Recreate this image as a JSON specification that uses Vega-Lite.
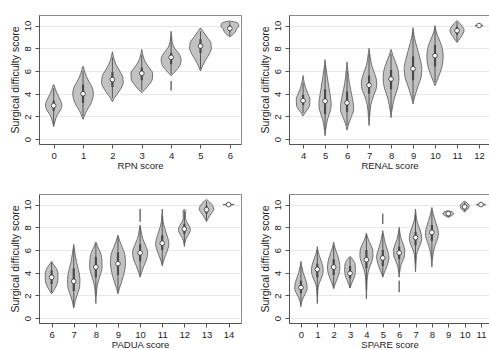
{
"$schema":"https://vega.github.io/schema/vega-lite/v6.json",
"padding":{"left":9,"top":14,"right":0,"bottom":0},
"background":"white",
"datasets":{
"vio":[
{"p":"RPN","k":"R0","v":4.8,"l":-0.01,"h":0.01},{"p":"RPN","k":"R0","v":4.4,"l":-0.06,"h":0.06},{"p":"RPN","k":"R0","v":4.0,"l":-0.12,"h":0.12},{"p":"RPN","k":"R0","v":3.5,"l":-0.22,"h":0.22},{"p":"RPN","k":"R0","v":3.0,"l":-0.28,"h":0.28},{"p":"RPN","k":"R0","v":2.6,"l":-0.24,"h":0.24},{"p":"RPN","k":"R0","v":2.2,"l":-0.14,"h":0.14},{"p":"RPN","k":"R0","v":1.8,"l":-0.07,"h":0.07},{"p":"RPN","k":"R0","v":1.4,"l":-0.03,"h":0.03},{"p":"RPN","k":"R0","v":1.1,"l":0,"h":0},
{"p":"RPN","k":"R1","v":6.4,"l":0.99,"h":1.01},{"p":"RPN","k":"R1","v":6.0,"l":0.95,"h":1.05},{"p":"RPN","k":"R1","v":5.5,"l":0.88,"h":1.12},{"p":"RPN","k":"R1","v":5.0,"l":0.78,"h":1.22},{"p":"RPN","k":"R1","v":4.5,"l":0.68,"h":1.32},{"p":"RPN","k":"R1","v":4.0,"l":0.65,"h":1.35},{"p":"RPN","k":"R1","v":3.5,"l":0.68,"h":1.32},{"p":"RPN","k":"R1","v":3.0,"l":0.76,"h":1.24},{"p":"RPN","k":"R1","v":2.5,"l":0.88,"h":1.12},{"p":"RPN","k":"R1","v":2.0,"l":0.96,"h":1.04},{"p":"RPN","k":"R1","v":1.75,"l":1,"h":1},
{"p":"RPN","k":"R2","v":7.7,"l":2,"h":2},{"p":"RPN","k":"R2","v":7.2,"l":1.96,"h":2.04},{"p":"RPN","k":"R2","v":6.6,"l":1.88,"h":2.12},{"p":"RPN","k":"R2","v":6.0,"l":1.75,"h":2.25},{"p":"RPN","k":"R2","v":5.5,"l":1.65,"h":2.35},{"p":"RPN","k":"R2","v":5.0,"l":1.63,"h":2.37},{"p":"RPN","k":"R2","v":4.5,"l":1.7,"h":2.3},{"p":"RPN","k":"R2","v":4.0,"l":1.83,"h":2.17},{"p":"RPN","k":"R2","v":3.6,"l":1.94,"h":2.06},{"p":"RPN","k":"R2","v":3.3,"l":2,"h":2},
{"p":"RPN","k":"R3","v":7.9,"l":3,"h":3},{"p":"RPN","k":"R3","v":7.4,"l":2.96,"h":3.04},{"p":"RPN","k":"R3","v":6.8,"l":2.88,"h":3.12},{"p":"RPN","k":"R3","v":6.3,"l":2.75,"h":3.25},{"p":"RPN","k":"R3","v":5.8,"l":2.63,"h":3.37},{"p":"RPN","k":"R3","v":5.3,"l":2.64,"h":3.36},{"p":"RPN","k":"R3","v":4.8,"l":2.75,"h":3.25},{"p":"RPN","k":"R3","v":4.4,"l":2.88,"h":3.12},{"p":"RPN","k":"R3","v":4.1,"l":3,"h":3},
{"p":"RPN","k":"R4","v":9.5,"l":4,"h":4},{"p":"RPN","k":"R4","v":9.0,"l":3.98,"h":4.02},{"p":"RPN","k":"R4","v":8.5,"l":3.96,"h":4.04},{"p":"RPN","k":"R4","v":8.0,"l":3.88,"h":4.12},{"p":"RPN","k":"R4","v":7.5,"l":3.73,"h":4.27},{"p":"RPN","k":"R4","v":7.0,"l":3.66,"h":4.34},{"p":"RPN","k":"R4","v":6.5,"l":3.7,"h":4.3},{"p":"RPN","k":"R4","v":6.0,"l":3.85,"h":4.15},{"p":"RPN","k":"R4","v":5.6,"l":4,"h":4},
{"p":"RPN","k":"R4t","v":5.1,"l":3.995,"h":4.005},{"p":"RPN","k":"R4t","v":4.3,"l":3.995,"h":4.005},
{"p":"RPN","k":"R5","v":9.8,"l":5,"h":5},{"p":"RPN","k":"R5","v":9.5,"l":4.92,"h":5.08},{"p":"RPN","k":"R5","v":9.0,"l":4.78,"h":5.22},{"p":"RPN","k":"R5","v":8.5,"l":4.65,"h":5.35},{"p":"RPN","k":"R5","v":8.0,"l":4.63,"h":5.37},{"p":"RPN","k":"R5","v":7.5,"l":4.7,"h":5.3},{"p":"RPN","k":"R5","v":7.0,"l":4.82,"h":5.18},{"p":"RPN","k":"R5","v":6.5,"l":4.92,"h":5.08},{"p":"RPN","k":"R5","v":6.0,"l":5,"h":5},
{"p":"RPN","k":"R6","v":10.4,"l":6,"h":6},{"p":"RPN","k":"R6","v":10.3,"l":5.8,"h":6.2},{"p":"RPN","k":"R6","v":10.1,"l":5.7,"h":6.3},{"p":"RPN","k":"R6","v":9.9,"l":5.7,"h":6.3},{"p":"RPN","k":"R6","v":9.7,"l":5.78,"h":6.22},{"p":"RPN","k":"R6","v":9.5,"l":5.8,"h":6.2},{"p":"RPN","k":"R6","v":9.3,"l":5.86,"h":6.14},{"p":"RPN","k":"R6","v":9.1,"l":5.95,"h":6.05},{"p":"RPN","k":"R6","v":9.0,"l":6,"h":6},

{"p":"REN","k":"N4","v":5.6,"l":4,"h":4},{"p":"REN","k":"N4","v":5.0,"l":3.95,"h":4.05},{"p":"REN","k":"N4","v":4.5,"l":3.88,"h":4.12},{"p":"REN","k":"N4","v":4.0,"l":3.78,"h":4.22},{"p":"REN","k":"N4","v":3.5,"l":3.69,"h":4.31},{"p":"REN","k":"N4","v":3.0,"l":3.7,"h":4.3},{"p":"REN","k":"N4","v":2.6,"l":3.8,"h":4.2},{"p":"REN","k":"N4","v":2.3,"l":3.92,"h":4.08},{"p":"REN","k":"N4","v":2.05,"l":4,"h":4},
{"p":"REN","k":"N5","v":7.0,"l":5,"h":5},{"p":"REN","k":"N5","v":6.3,"l":4.96,"h":5.04},{"p":"REN","k":"N5","v":5.5,"l":4.9,"h":5.1},{"p":"REN","k":"N5","v":4.5,"l":4.82,"h":5.18},{"p":"REN","k":"N5","v":3.5,"l":4.74,"h":5.26},{"p":"REN","k":"N5","v":3.0,"l":4.72,"h":5.28},{"p":"REN","k":"N5","v":2.5,"l":4.76,"h":5.24},{"p":"REN","k":"N5","v":1.8,"l":4.88,"h":5.12},{"p":"REN","k":"N5","v":1.0,"l":4.96,"h":5.04},{"p":"REN","k":"N5","v":0.3,"l":5,"h":5},
{"p":"REN","k":"N6","v":6.8,"l":6,"h":6},{"p":"REN","k":"N6","v":6.0,"l":5.96,"h":6.04},{"p":"REN","k":"N6","v":5.0,"l":5.9,"h":6.1},{"p":"REN","k":"N6","v":4.0,"l":5.8,"h":6.2},{"p":"REN","k":"N6","v":3.2,"l":5.72,"h":6.28},{"p":"REN","k":"N6","v":2.6,"l":5.7,"h":6.3},{"p":"REN","k":"N6","v":2.0,"l":5.8,"h":6.2},{"p":"REN","k":"N6","v":1.4,"l":5.92,"h":6.08},{"p":"REN","k":"N6","v":0.8,"l":6,"h":6},
{"p":"REN","k":"N7","v":8.0,"l":7,"h":7},{"p":"REN","k":"N7","v":7.3,"l":6.95,"h":7.05},{"p":"REN","k":"N7","v":6.5,"l":6.88,"h":7.12},{"p":"REN","k":"N7","v":5.8,"l":6.75,"h":7.25},{"p":"REN","k":"N7","v":5.0,"l":6.65,"h":7.35},{"p":"REN","k":"N7","v":4.5,"l":6.67,"h":7.33},{"p":"REN","k":"N7","v":3.8,"l":6.8,"h":7.2},{"p":"REN","k":"N7","v":3.0,"l":6.92,"h":7.08},{"p":"REN","k":"N7","v":2.0,"l":6.97,"h":7.03},{"p":"REN","k":"N7","v":1.2,"l":7,"h":7},
{"p":"REN","k":"N8","v":7.9,"l":8,"h":8},{"p":"REN","k":"N8","v":7.4,"l":7.92,"h":8.08},{"p":"REN","k":"N8","v":6.8,"l":7.8,"h":8.2},{"p":"REN","k":"N8","v":6.0,"l":7.67,"h":8.33},{"p":"REN","k":"N8","v":5.3,"l":7.64,"h":8.36},{"p":"REN","k":"N8","v":4.5,"l":7.7,"h":8.3},{"p":"REN","k":"N8","v":3.8,"l":7.82,"h":8.18},{"p":"REN","k":"N8","v":3.0,"l":7.92,"h":8.08},{"p":"REN","k":"N8","v":2.4,"l":7.97,"h":8.03},{"p":"REN","k":"N8","v":1.9,"l":8,"h":8},
{"p":"REN","k":"N9","v":9.8,"l":9,"h":9},{"p":"REN","k":"N9","v":9.2,"l":8.96,"h":9.04},{"p":"REN","k":"N9","v":8.5,"l":8.88,"h":9.12},{"p":"REN","k":"N9","v":7.8,"l":8.78,"h":9.22},{"p":"REN","k":"N9","v":7.0,"l":8.67,"h":9.33},{"p":"REN","k":"N9","v":6.3,"l":8.6,"h":9.4},{"p":"REN","k":"N9","v":5.5,"l":8.63,"h":9.37},{"p":"REN","k":"N9","v":4.8,"l":8.75,"h":9.25},{"p":"REN","k":"N9","v":4.0,"l":8.88,"h":9.12},{"p":"REN","k":"N9","v":3.4,"l":8.97,"h":9.03},{"p":"REN","k":"N9","v":3.1,"l":9,"h":9},
{"p":"REN","k":"N10","v":10.0,"l":10,"h":10},{"p":"REN","k":"N10","v":9.5,"l":9.95,"h":10.05},{"p":"REN","k":"N10","v":9.0,"l":9.86,"h":10.14},{"p":"REN","k":"N10","v":8.5,"l":9.75,"h":10.25},{"p":"REN","k":"N10","v":8.0,"l":9.67,"h":10.33},{"p":"REN","k":"N10","v":7.3,"l":9.63,"h":10.37},{"p":"REN","k":"N10","v":6.5,"l":9.67,"h":10.33},{"p":"REN","k":"N10","v":5.8,"l":9.78,"h":10.22},{"p":"REN","k":"N10","v":5.2,"l":9.9,"h":10.1},{"p":"REN","k":"N10","v":4.7,"l":10,"h":10},
{"p":"REN","k":"N11","v":10.45,"l":11,"h":11},{"p":"REN","k":"N11","v":10.2,"l":10.88,"h":11.12},{"p":"REN","k":"N11","v":9.9,"l":10.75,"h":11.25},{"p":"REN","k":"N11","v":9.6,"l":10.68,"h":11.32},{"p":"REN","k":"N11","v":9.3,"l":10.72,"h":11.28},{"p":"REN","k":"N11","v":9.0,"l":10.82,"h":11.18},{"p":"REN","k":"N11","v":8.7,"l":10.93,"h":11.07},{"p":"REN","k":"N11","v":8.5,"l":11,"h":11},
{"p":"REN","k":"N12","v":10.02,"l":11.82,"h":12.18},{"p":"REN","k":"N12","v":9.98,"l":11.82,"h":12.18},

{"p":"PAD","k":"P6","v":5.0,"l":6,"h":6},{"p":"PAD","k":"P6","v":4.7,"l":5.9,"h":6.1},{"p":"PAD","k":"P6","v":4.3,"l":5.76,"h":6.24},{"p":"PAD","k":"P6","v":3.8,"l":5.71,"h":6.29},{"p":"PAD","k":"P6","v":3.3,"l":5.72,"h":6.28},{"p":"PAD","k":"P6","v":2.8,"l":5.8,"h":6.2},{"p":"PAD","k":"P6","v":2.4,"l":5.92,"h":6.08},{"p":"PAD","k":"P6","v":2.15,"l":6,"h":6},
{"p":"PAD","k":"P7","v":6.5,"l":7,"h":7},{"p":"PAD","k":"P7","v":5.8,"l":6.95,"h":7.05},{"p":"PAD","k":"P7","v":5.0,"l":6.88,"h":7.12},{"p":"PAD","k":"P7","v":4.2,"l":6.78,"h":7.22},{"p":"PAD","k":"P7","v":3.4,"l":6.72,"h":7.28},{"p":"PAD","k":"P7","v":2.8,"l":6.73,"h":7.27},{"p":"PAD","k":"P7","v":2.2,"l":6.82,"h":7.18},{"p":"PAD","k":"P7","v":1.6,"l":6.92,"h":7.08},{"p":"PAD","k":"P7","v":0.9,"l":7,"h":7},
{"p":"PAD","k":"P8","v":6.7,"l":8,"h":8},{"p":"PAD","k":"P8","v":6.3,"l":7.92,"h":8.08},{"p":"PAD","k":"P8","v":5.8,"l":7.8,"h":8.2},{"p":"PAD","k":"P8","v":5.2,"l":7.73,"h":8.27},{"p":"PAD","k":"P8","v":4.5,"l":7.72,"h":8.28},{"p":"PAD","k":"P8","v":3.8,"l":7.8,"h":8.2},{"p":"PAD","k":"P8","v":3.0,"l":7.92,"h":8.08},{"p":"PAD","k":"P8","v":2.3,"l":7.97,"h":8.03},{"p":"PAD","k":"P8","v":1.3,"l":8,"h":8},
{"p":"PAD","k":"P9","v":7.3,"l":9,"h":9},{"p":"PAD","k":"P9","v":6.8,"l":8.92,"h":9.08},{"p":"PAD","k":"P9","v":6.2,"l":8.8,"h":9.2},{"p":"PAD","k":"P9","v":5.5,"l":8.68,"h":9.32},{"p":"PAD","k":"P9","v":4.8,"l":8.66,"h":9.34},{"p":"PAD","k":"P9","v":4.0,"l":8.72,"h":9.28},{"p":"PAD","k":"P9","v":3.3,"l":8.82,"h":9.18},{"p":"PAD","k":"P9","v":2.6,"l":8.94,"h":9.06},{"p":"PAD","k":"P9","v":2.15,"l":9,"h":9},
{"p":"PAD","k":"P10","v":8.2,"l":10,"h":10},{"p":"PAD","k":"P10","v":7.6,"l":9.95,"h":10.05},{"p":"PAD","k":"P10","v":7.0,"l":9.88,"h":10.12},{"p":"PAD","k":"P10","v":6.4,"l":9.75,"h":10.25},{"p":"PAD","k":"P10","v":5.8,"l":9.66,"h":10.34},{"p":"PAD","k":"P10","v":5.2,"l":9.7,"h":10.3},{"p":"PAD","k":"P10","v":4.6,"l":9.83,"h":10.17},{"p":"PAD","k":"P10","v":4.0,"l":9.94,"h":10.06},{"p":"PAD","k":"P10","v":3.6,"l":10,"h":10},
{"p":"PAD","k":"P10t","v":9.6,"l":9.995,"h":10.005},{"p":"PAD","k":"P10t","v":8.5,"l":9.995,"h":10.005},
{"p":"PAD","k":"P11","v":9.6,"l":11,"h":11},{"p":"PAD","k":"P11","v":9.0,"l":10.98,"h":11.02},{"p":"PAD","k":"P11","v":8.5,"l":10.96,"h":11.04},{"p":"PAD","k":"P11","v":8.0,"l":10.9,"h":11.1},{"p":"PAD","k":"P11","v":7.5,"l":10.82,"h":11.18},{"p":"PAD","k":"P11","v":7.0,"l":10.74,"h":11.26},{"p":"PAD","k":"P11","v":6.5,"l":10.7,"h":11.3},{"p":"PAD","k":"P11","v":6.0,"l":10.76,"h":11.24},{"p":"PAD","k":"P11","v":5.5,"l":10.86,"h":11.14},{"p":"PAD","k":"P11","v":5.0,"l":10.95,"h":11.05},{"p":"PAD","k":"P11","v":4.6,"l":11,"h":11},
{"p":"PAD","k":"P12","v":9.6,"l":12,"h":12},{"p":"PAD","k":"P12","v":9.4,"l":11.94,"h":12.06},{"p":"PAD","k":"P12","v":9.1,"l":11.95,"h":12.05},{"p":"PAD","k":"P12","v":8.8,"l":11.95,"h":12.05},{"p":"PAD","k":"P12","v":8.5,"l":11.9,"h":12.1},{"p":"PAD","k":"P12","v":8.1,"l":11.78,"h":12.22},{"p":"PAD","k":"P12","v":7.8,"l":11.73,"h":12.27},{"p":"PAD","k":"P12","v":7.4,"l":11.8,"h":12.2},{"p":"PAD","k":"P12","v":7.0,"l":11.92,"h":12.08},{"p":"PAD","k":"P12","v":6.6,"l":11.98,"h":12.02},{"p":"PAD","k":"P12","v":6.3,"l":12,"h":12},
{"p":"PAD","k":"P13","v":10.45,"l":13,"h":13},{"p":"PAD","k":"P13","v":10.2,"l":12.85,"h":13.15},{"p":"PAD","k":"P13","v":9.9,"l":12.72,"h":13.28},{"p":"PAD","k":"P13","v":9.6,"l":12.67,"h":13.33},{"p":"PAD","k":"P13","v":9.3,"l":12.75,"h":13.25},{"p":"PAD","k":"P13","v":9.0,"l":12.86,"h":13.14},{"p":"PAD","k":"P13","v":8.7,"l":12.95,"h":13.05},{"p":"PAD","k":"P13","v":8.5,"l":13,"h":13},
{"p":"PAD","k":"P14","v":10.02,"l":13.76,"h":14.24},{"p":"PAD","k":"P14","v":9.98,"l":13.76,"h":14.24},

{"p":"SPA","k":"S0","v":5.0,"l":0,"h":0},{"p":"SPA","k":"S0","v":4.5,"l":-0.06,"h":0.06},{"p":"SPA","k":"S0","v":4.0,"l":-0.14,"h":0.14},{"p":"SPA","k":"S0","v":3.5,"l":-0.26,"h":0.26},{"p":"SPA","k":"S0","v":3.0,"l":-0.36,"h":0.36},{"p":"SPA","k":"S0","v":2.6,"l":-0.38,"h":0.38},{"p":"SPA","k":"S0","v":2.2,"l":-0.28,"h":0.28},{"p":"SPA","k":"S0","v":1.8,"l":-0.14,"h":0.14},{"p":"SPA","k":"S0","v":1.4,"l":-0.04,"h":0.04},{"p":"SPA","k":"S0","v":1.0,"l":0,"h":0},
{"p":"SPA","k":"S1","v":6.3,"l":1,"h":1},{"p":"SPA","k":"S1","v":5.8,"l":0.94,"h":1.06},{"p":"SPA","k":"S1","v":5.2,"l":0.8,"h":1.2},{"p":"SPA","k":"S1","v":4.6,"l":0.67,"h":1.33},{"p":"SPA","k":"S1","v":4.2,"l":0.64,"h":1.36},{"p":"SPA","k":"S1","v":3.7,"l":0.7,"h":1.3},{"p":"SPA","k":"S1","v":3.2,"l":0.85,"h":1.15},{"p":"SPA","k":"S1","v":2.7,"l":0.95,"h":1.05},{"p":"SPA","k":"S1","v":2.0,"l":0.98,"h":1.02},{"p":"SPA","k":"S1","v":1.3,"l":1,"h":1},
{"p":"SPA","k":"S2","v":6.7,"l":2,"h":2},{"p":"SPA","k":"S2","v":6.2,"l":1.92,"h":2.08},{"p":"SPA","k":"S2","v":5.6,"l":1.78,"h":2.22},{"p":"SPA","k":"S2","v":5.0,"l":1.66,"h":2.34},{"p":"SPA","k":"S2","v":4.4,"l":1.62,"h":2.38},{"p":"SPA","k":"S2","v":3.8,"l":1.7,"h":2.3},{"p":"SPA","k":"S2","v":3.3,"l":1.83,"h":2.17},{"p":"SPA","k":"S2","v":2.9,"l":1.94,"h":2.06},{"p":"SPA","k":"S2","v":2.6,"l":2,"h":2},
{"p":"SPA","k":"S3","v":5.45,"l":3,"h":3},{"p":"SPA","k":"S3","v":5.2,"l":2.85,"h":3.15},{"p":"SPA","k":"S3","v":4.8,"l":2.7,"h":3.3},{"p":"SPA","k":"S3","v":4.3,"l":2.67,"h":3.33},{"p":"SPA","k":"S3","v":3.8,"l":2.7,"h":3.3},{"p":"SPA","k":"S3","v":3.4,"l":2.8,"h":3.2},{"p":"SPA","k":"S3","v":3.0,"l":2.92,"h":3.08},{"p":"SPA","k":"S3","v":2.65,"l":3,"h":3},
{"p":"SPA","k":"S4","v":7.5,"l":4,"h":4},{"p":"SPA","k":"S4","v":7.0,"l":3.9,"h":4.1},{"p":"SPA","k":"S4","v":6.5,"l":3.75,"h":4.25},{"p":"SPA","k":"S4","v":6.0,"l":3.62,"h":4.38},{"p":"SPA","k":"S4","v":5.5,"l":3.6,"h":4.4},{"p":"SPA","k":"S4","v":5.0,"l":3.67,"h":4.33},{"p":"SPA","k":"S4","v":4.5,"l":3.8,"h":4.2},{"p":"SPA","k":"S4","v":4.0,"l":3.9,"h":4.1},{"p":"SPA","k":"S4","v":3.3,"l":3.96,"h":4.04},{"p":"SPA","k":"S4","v":2.5,"l":3.98,"h":4.02},{"p":"SPA","k":"S4","v":1.7,"l":4,"h":4},
{"p":"SPA","k":"S5","v":7.7,"l":5,"h":5},{"p":"SPA","k":"S5","v":7.2,"l":4.94,"h":5.06},{"p":"SPA","k":"S5","v":6.6,"l":4.85,"h":5.15},{"p":"SPA","k":"S5","v":6.0,"l":4.72,"h":5.28},{"p":"SPA","k":"S5","v":5.4,"l":4.62,"h":5.38},{"p":"SPA","k":"S5","v":4.8,"l":4.7,"h":5.3},{"p":"SPA","k":"S5","v":4.3,"l":4.82,"h":5.18},{"p":"SPA","k":"S5","v":3.9,"l":4.94,"h":5.06},{"p":"SPA","k":"S5","v":3.6,"l":5,"h":5},
{"p":"SPA","k":"S5t","v":9.2,"l":4.995,"h":5.005},{"p":"SPA","k":"S5t","v":8.3,"l":4.995,"h":5.005},
{"p":"SPA","k":"S6","v":8.0,"l":6,"h":6},{"p":"SPA","k":"S6","v":7.5,"l":5.95,"h":6.05},{"p":"SPA","k":"S6","v":7.0,"l":5.88,"h":6.12},{"p":"SPA","k":"S6","v":6.5,"l":5.75,"h":6.25},{"p":"SPA","k":"S6","v":6.0,"l":5.66,"h":6.34},{"p":"SPA","k":"S6","v":5.5,"l":5.67,"h":6.33},{"p":"SPA","k":"S6","v":5.0,"l":5.8,"h":6.2},{"p":"SPA","k":"S6","v":4.5,"l":5.92,"h":6.08},{"p":"SPA","k":"S6","v":4.0,"l":5.97,"h":6.03},{"p":"SPA","k":"S6","v":3.6,"l":6,"h":6},
{"p":"SPA","k":"S6t","v":3.3,"l":5.995,"h":6.005},{"p":"SPA","k":"S6t","v":2.3,"l":5.995,"h":6.005},
{"p":"SPA","k":"S7","v":9.6,"l":7,"h":7},{"p":"SPA","k":"S7","v":9.0,"l":6.96,"h":7.04},{"p":"SPA","k":"S7","v":8.5,"l":6.9,"h":7.1},{"p":"SPA","k":"S7","v":8.0,"l":6.78,"h":7.22},{"p":"SPA","k":"S7","v":7.5,"l":6.67,"h":7.33},{"p":"SPA","k":"S7","v":7.0,"l":6.62,"h":7.38},{"p":"SPA","k":"S7","v":6.5,"l":6.7,"h":7.3},{"p":"SPA","k":"S7","v":6.0,"l":6.85,"h":7.15},{"p":"SPA","k":"S7","v":5.5,"l":6.94,"h":7.06},{"p":"SPA","k":"S7","v":4.8,"l":6.97,"h":7.03},{"p":"SPA","k":"S7","v":4.1,"l":7,"h":7},
{"p":"SPA","k":"S8","v":9.75,"l":8,"h":8},{"p":"SPA","k":"S8","v":9.2,"l":7.92,"h":8.08},{"p":"SPA","k":"S8","v":8.6,"l":7.8,"h":8.2},{"p":"SPA","k":"S8","v":8.0,"l":7.67,"h":8.33},{"p":"SPA","k":"S8","v":7.5,"l":7.6,"h":8.4},{"p":"SPA","k":"S8","v":7.0,"l":7.65,"h":8.35},{"p":"SPA","k":"S8","v":6.5,"l":7.78,"h":8.22},{"p":"SPA","k":"S8","v":6.0,"l":7.88,"h":8.12},{"p":"SPA","k":"S8","v":5.4,"l":7.95,"h":8.05},{"p":"SPA","k":"S8","v":4.5,"l":8,"h":8},
{"p":"SPA","k":"S9","v":9.45,"l":9,"h":9},{"p":"SPA","k":"S9","v":9.35,"l":8.75,"h":9.25},{"p":"SPA","k":"S9","v":9.2,"l":8.67,"h":9.33},{"p":"SPA","k":"S9","v":9.05,"l":8.75,"h":9.25},{"p":"SPA","k":"S9","v":8.95,"l":8.9,"h":9.1},{"p":"SPA","k":"S9","v":8.85,"l":9,"h":9},
{"p":"SPA","k":"S10","v":10.3,"l":10,"h":10},{"p":"SPA","k":"S10","v":10.1,"l":9.82,"h":10.18},{"p":"SPA","k":"S10","v":9.9,"l":9.73,"h":10.27},{"p":"SPA","k":"S10","v":9.7,"l":9.76,"h":10.24},{"p":"SPA","k":"S10","v":9.5,"l":9.88,"h":10.12},{"p":"SPA","k":"S10","v":9.35,"l":10,"h":10},
{"p":"SPA","k":"S11","v":10.02,"l":10.73,"h":11.27},{"p":"SPA","k":"S11","v":9.98,"l":10.73,"h":11.27}
],
"box":[
{"p":"RPN","s":0,"q1":2.5,"q3":3.4,"lo":1.3,"hi":4.5,"m":2.95},
{"p":"RPN","s":1,"q1":3.2,"q3":4.8,"lo":2.0,"hi":6.0,"m":4.0},
{"p":"RPN","s":2,"q1":4.6,"q3":5.9,"lo":3.6,"hi":7.2,"m":5.25},
{"p":"RPN","s":3,"q1":5.2,"q3":6.3,"lo":4.3,"hi":7.4,"m":5.8},
{"p":"RPN","s":4,"q1":6.6,"q3":7.6,"lo":5.7,"hi":9.0,"m":7.2},
{"p":"RPN","s":5,"q1":7.6,"q3":8.8,"lo":6.2,"hi":9.5,"m":8.2},
{"p":"RPN","s":6,"q1":9.5,"q3":10.0,"lo":9.1,"hi":10.3,"m":9.75},
{"p":"REN","s":4,"q1":3.0,"q3":3.9,"lo":2.3,"hi":5.0,"m":3.4},
{"p":"REN","s":5,"q1":2.2,"q3":4.4,"lo":0.8,"hi":6.5,"m":3.35},
{"p":"REN","s":6,"q1":2.4,"q3":4.2,"lo":1.2,"hi":6.0,"m":3.2},
{"p":"REN","s":7,"q1":4.0,"q3":5.6,"lo":2.0,"hi":7.5,"m":4.75},
{"p":"REN","s":8,"q1":4.4,"q3":6.1,"lo":2.4,"hi":7.5,"m":5.3},
{"p":"REN","s":9,"q1":5.2,"q3":7.3,"lo":3.4,"hi":9.4,"m":6.2},
{"p":"REN","s":10,"q1":6.4,"q3":8.3,"lo":5.0,"hi":9.8,"m":7.35},
{"p":"REN","s":11,"q1":9.2,"q3":9.9,"lo":8.6,"hi":10.3,"m":9.55},
{"p":"REN","s":12,"q1":10,"q3":10,"lo":10,"hi":10,"m":10},
{"p":"PAD","s":6,"q1":3.0,"q3":4.2,"lo":2.3,"hi":4.9,"m":3.6},
{"p":"PAD","s":7,"q1":2.4,"q3":4.4,"lo":1.0,"hi":6.2,"m":3.25},
{"p":"PAD","s":8,"q1":3.6,"q3":5.4,"lo":2.0,"hi":6.6,"m":4.5},
{"p":"PAD","s":9,"q1":3.8,"q3":5.8,"lo":2.3,"hi":7.2,"m":4.8},
{"p":"PAD","s":10,"q1":5.0,"q3":6.5,"lo":3.8,"hi":8.0,"m":5.75},
{"p":"PAD","s":11,"q1":6.0,"q3":7.3,"lo":4.8,"hi":9.0,"m":6.6},
{"p":"PAD","s":12,"q1":7.4,"q3":8.3,"lo":6.5,"hi":9.4,"m":7.85},
{"p":"PAD","s":13,"q1":9.2,"q3":9.9,"lo":8.6,"hi":10.3,"m":9.55},
{"p":"PAD","s":14,"q1":10,"q3":10,"lo":10,"hi":10,"m":10},
{"p":"SPA","s":0,"q1":2.2,"q3":3.3,"lo":1.2,"hi":4.6,"m":2.7},
{"p":"SPA","s":1,"q1":3.6,"q3":4.8,"lo":2.0,"hi":6.0,"m":4.3},
{"p":"SPA","s":2,"q1":3.8,"q3":5.2,"lo":2.7,"hi":6.4,"m":4.5},
{"p":"SPA","s":3,"q1":3.5,"q3":4.6,"lo":2.7,"hi":5.3,"m":3.95},
{"p":"SPA","s":4,"q1":4.4,"q3":6.0,"lo":2.5,"hi":7.3,"m":5.15},
{"p":"SPA","s":5,"q1":4.6,"q3":6.0,"lo":3.7,"hi":7.4,"m":5.3},
{"p":"SPA","s":6,"q1":5.2,"q3":6.3,"lo":4.0,"hi":7.7,"m":5.75},
{"p":"SPA","s":7,"q1":6.4,"q3":7.6,"lo":4.8,"hi":9.2,"m":7.1},
{"p":"SPA","s":8,"q1":6.8,"q3":8.2,"lo":5.2,"hi":9.5,"m":7.55},
{"p":"SPA","s":9,"q1":9.0,"q3":9.35,"lo":8.9,"hi":9.4,"m":9.2},
{"p":"SPA","s":10,"q1":9.6,"q3":10.0,"lo":9.4,"hi":10.2,"m":9.8},
{"p":"SPA","s":11,"q1":10,"q3":10,"lo":10,"hi":10,"m":10}
]
},
"concat":[
{"width":202,"height":129,"layer":[
{"data":{"name":"vio"},"transform":[{"filter":"datum.p=='RPN'"}],"mark":{"type":"area","orient":"horizontal","interpolate":"monotone","fill":"#c2c2c2","stroke":"#555555","strokeWidth":0.8},
"encoding":{"y":{"field":"v","type":"quantitative","scale":{"domain":[-0.42,10.93],"nice":false,"zero":false},"axis":{"title":"Surgical difficulty score","values":[0,2,4,6,8,10],"tickCount":20,"format":"d","labelOverlap":false}},
"x":{"field":"l","type":"quantitative","scale":{"domain":[-0.5,6.38],"nice":false,"zero":false},"axis":{"title":"RPN score","values":[0,1,2,3,4,5,6],"tickCount":20,"format":"d","labelOverlap":false}},"x2":{"field":"h"},"detail":{"field":"k"}}},
{"data":{"name":"box"},"transform":[{"filter":"datum.p=='RPN'"}],"mark":{"type":"rule","color":"#555555","strokeWidth":1},"encoding":{"x":{"field":"s","type":"quantitative"},"y":{"field":"lo","type":"quantitative"},"y2":{"field":"hi"}}},
{"data":{"name":"box"},"transform":[{"filter":"datum.p=='RPN'"}],"mark":{"type":"rule","color":"#4a4a4a","strokeWidth":2.2},"encoding":{"x":{"field":"s","type":"quantitative"},"y":{"field":"q1","type":"quantitative"},"y2":{"field":"q3"}}},
{"data":{"name":"box"},"transform":[{"filter":"datum.p=='RPN'"}],"mark":{"type":"point","filled":false,"fill":"white","fillOpacity":1,"stroke":"#333333","strokeWidth":0.8,"size":22,"opacity":1},"encoding":{"x":{"field":"s","type":"quantitative"},"y":{"field":"m","type":"quantitative"}}}
]},
{"width":201,"height":129,"layer":[
{"data":{"name":"vio"},"transform":[{"filter":"datum.p=='REN'"}],"mark":{"type":"area","orient":"horizontal","interpolate":"monotone","fill":"#c2c2c2","stroke":"#555555","strokeWidth":0.8},
"encoding":{"y":{"field":"v","type":"quantitative","scale":{"domain":[-0.42,10.93],"nice":false,"zero":false},"axis":{"title":"Surgical difficulty score","values":[0,2,4,6,8,10],"tickCount":20,"format":"d","labelOverlap":false}},
"x":{"field":"l","type":"quantitative","scale":{"domain":[3.36,12.5],"nice":false,"zero":false},"axis":{"title":"RENAL score","values":[4,5,6,7,8,9,10,11,12],"tickCount":20,"format":"d","labelOverlap":false}},"x2":{"field":"h"},"detail":{"field":"k"}}},
{"data":{"name":"box"},"transform":[{"filter":"datum.p=='REN'"}],"mark":{"type":"rule","color":"#555555","strokeWidth":1},"encoding":{"x":{"field":"s","type":"quantitative"},"y":{"field":"lo","type":"quantitative"},"y2":{"field":"hi"}}},
{"data":{"name":"box"},"transform":[{"filter":"datum.p=='REN'"}],"mark":{"type":"rule","color":"#4a4a4a","strokeWidth":2.2},"encoding":{"x":{"field":"s","type":"quantitative"},"y":{"field":"q1","type":"quantitative"},"y2":{"field":"q3"}}},
{"data":{"name":"box"},"transform":[{"filter":"datum.p=='REN'"}],"mark":{"type":"point","filled":false,"fill":"white","fillOpacity":1,"stroke":"#333333","strokeWidth":0.8,"size":22,"opacity":1},"encoding":{"x":{"field":"s","type":"quantitative"},"y":{"field":"m","type":"quantitative"}}}
]},
{"width":202,"height":129,"layer":[
{"data":{"name":"vio"},"transform":[{"filter":"datum.p=='PAD'"}],"mark":{"type":"area","orient":"horizontal","interpolate":"monotone","fill":"#c2c2c2","stroke":"#555555","strokeWidth":0.8},
"encoding":{"y":{"field":"v","type":"quantitative","scale":{"domain":[-0.42,10.93],"nice":false,"zero":false},"axis":{"title":"Surgical difficulty score","values":[0,2,4,6,8,10],"tickCount":20,"format":"d","labelOverlap":false}},
"x":{"field":"l","type":"quantitative","scale":{"domain":[5.43,14.56],"nice":false,"zero":false},"axis":{"title":"PADUA score","values":[6,7,8,9,10,11,12,13,14],"tickCount":20,"format":"d","labelOverlap":false}},"x2":{"field":"h"},"detail":{"field":"k"}}},
{"data":{"name":"box"},"transform":[{"filter":"datum.p=='PAD'"}],"mark":{"type":"rule","color":"#555555","strokeWidth":1},"encoding":{"x":{"field":"s","type":"quantitative"},"y":{"field":"lo","type":"quantitative"},"y2":{"field":"hi"}}},
{"data":{"name":"box"},"transform":[{"filter":"datum.p=='PAD'"}],"mark":{"type":"rule","color":"#4a4a4a","strokeWidth":2.2},"encoding":{"x":{"field":"s","type":"quantitative"},"y":{"field":"q1","type":"quantitative"},"y2":{"field":"q3"}}},
{"data":{"name":"box"},"transform":[{"filter":"datum.p=='PAD'"}],"mark":{"type":"point","filled":false,"fill":"white","fillOpacity":1,"stroke":"#333333","strokeWidth":0.8,"size":22,"opacity":1},"encoding":{"x":{"field":"s","type":"quantitative"},"y":{"field":"m","type":"quantitative"}}}
]},
{"width":201,"height":129,"layer":[
{"data":{"name":"vio"},"transform":[{"filter":"datum.p=='SPA'"}],"mark":{"type":"area","orient":"horizontal","interpolate":"monotone","fill":"#c2c2c2","stroke":"#555555","strokeWidth":0.8},
"encoding":{"y":{"field":"v","type":"quantitative","scale":{"domain":[-0.42,10.93],"nice":false,"zero":false},"axis":{"title":"Surgical difficulty score","values":[0,2,4,6,8,10],"tickCount":20,"format":"d","labelOverlap":false}},
"x":{"field":"l","type":"quantitative","scale":{"domain":[-0.73,11.55],"nice":false,"zero":false},"axis":{"title":"SPARE score","values":[0,1,2,3,4,5,6,7,8,9,10,11],"tickCount":20,"format":"d","labelOverlap":false}},"x2":{"field":"h"},"detail":{"field":"k"}}},
{"data":{"name":"box"},"transform":[{"filter":"datum.p=='SPA'"}],"mark":{"type":"rule","color":"#555555","strokeWidth":1},"encoding":{"x":{"field":"s","type":"quantitative"},"y":{"field":"lo","type":"quantitative"},"y2":{"field":"hi"}}},
{"data":{"name":"box"},"transform":[{"filter":"datum.p=='SPA'"}],"mark":{"type":"rule","color":"#4a4a4a","strokeWidth":2.2},"encoding":{"x":{"field":"s","type":"quantitative"},"y":{"field":"q1","type":"quantitative"},"y2":{"field":"q3"}}},
{"data":{"name":"box"},"transform":[{"filter":"datum.p=='SPA'"}],"mark":{"type":"point","filled":false,"fill":"white","fillOpacity":1,"stroke":"#333333","strokeWidth":0.8,"size":22,"opacity":1},"encoding":{"x":{"field":"s","type":"quantitative"},"y":{"field":"m","type":"quantitative"}}}
]}
],
"columns":2,
"spacing":{"row":50,"column":48},
"bounds":"flush",
"config":{
"view":{"stroke":"#8a8a8a","strokeWidth":1},
"axis":{"labelFont":"Liberation Sans","titleFont":"Liberation Sans","labelColor":"#222222","titleColor":"#222222","titleFontWeight":"normal","domainColor":"#555555","tickColor":"#555555","tickSize":4,"labelOverlap":false},
"axisY":{"grid":true,"gridColor":"#e8e8e8","labelAngle":-90,"labelAlign":"center","labelBaseline":"bottom","labelPadding":3,"titlePadding":2,"labelFontSize":9.5,"titleFontSize":10.5},
"axisX":{"grid":false,"labelFontSize":9.5,"titleFontSize":9.5,"labelPadding":2,"titlePadding":1,"labelFlush":false}
}
}
